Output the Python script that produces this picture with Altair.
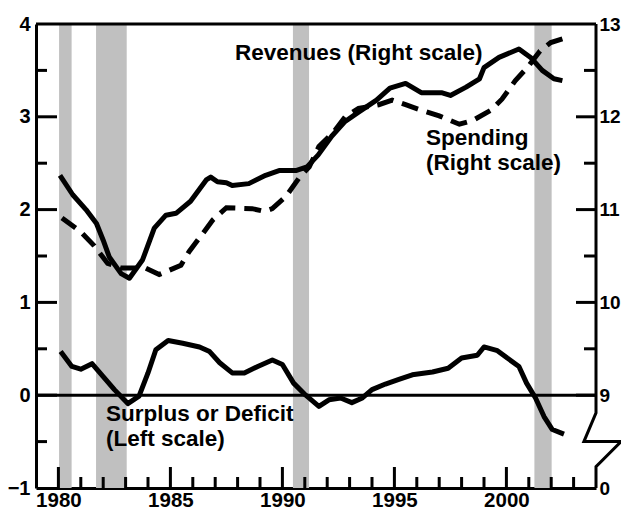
import altair as alt
import pandas as pd

# ---------------- data ----------------
rev_year = [1980.07, 1980.64, 1981.23, 1981.7, 1982.0, 1982.27, 1982.8, 1983.17, 1983.76,
            1984.28, 1984.8, 1985.25, 1985.9, 1986.6, 1986.8, 1987.1, 1987.5, 1987.76,
            1988.5, 1989.25, 1989.85, 1990.6, 1991.1, 1991.6, 1992.2, 1992.8, 1993.4,
            1994.2, 1994.8, 1995.5, 1996.2, 1997.1, 1997.5, 1998.2, 1998.8, 1999.0,
            1999.67, 2000.56, 2001.08, 2001.6, 2002.12, 2002.5]
rev_val = [11.37, 11.16, 11.00, 10.85, 10.67, 10.49, 10.31, 10.26, 10.46,
           10.80, 10.94, 10.96, 11.09, 11.32, 11.35, 11.30, 11.29, 11.26,
           11.28, 11.37, 11.42, 11.42, 11.46, 11.59, 11.79, 11.95, 12.05,
           12.18, 12.31, 12.36, 12.26, 12.26, 12.23, 12.32, 12.41, 12.53,
           12.64, 12.73, 12.64, 12.50, 12.41, 12.39]

spd_year = [1980.16, 1981.0, 1981.6, 1982.2, 1982.8, 1983.9, 1984.5, 1985.47, 1985.84,
            1986.44, 1986.9, 1987.5, 1988.65, 1989.2, 1989.55, 1990.15, 1990.74, 1991.2,
            1991.63, 1992.3, 1992.8, 1993.4, 1994.3, 1994.9, 1995.5, 1996.1, 1997.0,
            1997.9, 1998.5, 1999.3, 1999.8, 2000.4, 2000.93, 2001.5, 2001.98, 2002.5]
spd_val = [10.91, 10.76, 10.61, 10.42, 10.37, 10.37, 10.30, 10.40, 10.55,
           10.74, 10.89, 11.02, 11.01, 10.98, 11.01, 11.14, 11.34, 11.46,
           11.68, 11.84, 12.00, 12.09, 12.13, 12.18, 12.13, 12.08, 12.01,
           11.92, 11.96, 12.07, 12.19, 12.39, 12.53, 12.71, 12.80, 12.84]

sur_year = [1980.1, 1980.6, 1981.0, 1981.5, 1982.0, 1982.5, 1983.1, 1983.6, 1984.0,
            1984.35, 1984.9, 1985.55, 1986.3, 1986.75, 1987.2, 1987.76, 1988.3, 1988.9,
            1989.55, 1990.0, 1990.5, 1991.04, 1991.63, 1992.08, 1992.6, 1993.1, 1993.57,
            1994.0, 1994.6, 1995.2, 1995.8, 1996.7, 1997.4, 1998.0, 1998.7, 1999.0,
            1999.6, 2000.04, 2000.56, 2000.9, 2001.3, 2001.68, 2002.05, 2002.57]
sur_val = [0.47, 0.31, 0.28, 0.34, 0.20, 0.06, -0.09, -0.01, 0.24,
           0.49, 0.59, 0.56, 0.52, 0.47, 0.35, 0.24, 0.24, 0.31,
           0.38, 0.33, 0.13, 0.00, -0.12, -0.05, -0.03, -0.08, -0.03,
           0.06, 0.12, 0.17, 0.22, 0.25, 0.29, 0.40, 0.43, 0.52,
           0.48, 0.40, 0.31, 0.13, -0.03, -0.23, -0.37, -0.42]

rec_start = [1980.03, 1981.68, 1990.47, 2001.25]
rec_end = [1980.59, 1983.05, 1991.19, 2002.02]

x_major = [1980, 1985, 1990, 1995, 2000]
x_minor = [y for y in range(1981, 2004) if y % 5 != 0]
yl_major = [0, 1, 2, 3]
yl_minor = [-0.5, 0.5, 1.5, 2.5, 3.5]
yr_major = [9, 10, 11, 12]
yr_minor = [9.5, 10.5, 11.5, 12.5]
yl_labels = [-1, 0, 1, 2, 3, 4]
yr_labels = [8, 9, 10, 11, 12, 13]

# right-hand axis with its scale break
brk_x = [2004, 2004, 2003.46, 2005.12, 2004, 2004]
brk_y = [13, 8.81, 8.50, 8.50, 8.23, 8.0]

ann_text = ["Revenues (Right scale)", "Spending", "(Right scale)",
            "Surplus or Deficit", "(Left scale)"]
ann_x = [1987.88, 1996.41, 1996.41, 1982.125, 1982.125]
ann_y = [3.69, 2.77, 2.50, -0.20, -0.47]

# ---------------- chart ----------------
W, H = 560, 464
FONT = "Liberation Sans"

xs = alt.Scale(domain=[1979, 2004], nice=False, zero=False)
yl = alt.Scale(domain=[-1, 4], nice=False, zero=False)
yr = alt.Scale(domain=[8, 13], nice=False, zero=False)

x_axis = alt.Axis(title=None, values=x_major, format="d", ticks=False, grid=False,
                  domain=True, domainWidth=3, domainColor="black",
                  labelFont=FONT, labelFontSize=20.5, labelFontWeight="bold",
                  labelColor="black", labelPadding=2)
yl_axis = alt.Axis(title=None, values=yl_labels, format="d", ticks=False, grid=False,
                   domain=True, domainWidth=3, domainColor="black",
                   labelFont=FONT, labelFontSize=20, labelFontWeight="bold",
                   labelColor="black", labelPadding=6)
yr_axis = alt.Axis(title=None, orient="right", values=yr_labels, format="d",
                   ticks=False, grid=False, domain=False,
                   labelExpr="datum.value == 8 ? '0' : datum.label",
                   labelFont=FONT, labelFontSize=19, labelFontWeight="bold",
                   labelColor="black", labelPadding=3)


def X(field):
    return alt.X(field, scale=xs, axis=x_axis)


def YL(field):
    return alt.Y(field, scale=yl, axis=yl_axis)


def YR(field):
    return alt.Y(field, scale=yr, axis=yr_axis)


recess = alt.Chart(pd.DataFrame({"start": rec_start, "end": rec_end})).mark_rect(
    color="#c0c0c0").encode(x=X("start:Q"), x2="end:Q")

zero = alt.Chart(pd.DataFrame({"v": [0]})).mark_rule(color="black", strokeWidth=3).encode(
    y=YL("v:Q"))
top = alt.Chart(pd.DataFrame({"v": [4]})).mark_rule(color="black", strokeWidth=3).encode(
    y=YL("v:Q"))

surplus = alt.Chart(pd.DataFrame({"year": sur_year, "v": sur_val})).mark_line(
    color="black", strokeWidth=5, strokeJoin="round").encode(x=X("year:Q"), y=YL("v:Q"))

ltick_major = alt.Chart(pd.DataFrame({"v": yl_major})).mark_rule(
    color="black", strokeWidth=3).encode(y=YL("v:Q"), x=alt.value(0), x2=alt.value(21))
ltick_minor = alt.Chart(pd.DataFrame({"v": yl_minor})).mark_rule(
    color="black", strokeWidth=3).encode(y=YL("v:Q"), x=alt.value(0), x2=alt.value(11))

xtick_major = alt.Chart(pd.DataFrame({"year": x_major})).mark_rule(
    color="black", strokeWidth=3).encode(x=X("year:Q"), y=alt.value(H), y2=alt.value(H - 21))
xtick_minor = alt.Chart(pd.DataFrame({"year": x_minor})).mark_rule(
    color="black", strokeWidth=3).encode(x=X("year:Q"), y=alt.value(H), y2=alt.value(H - 11))

ann = alt.Chart(pd.DataFrame({"t": ann_text, "x": ann_x, "y": ann_y})).mark_text(
    align="left", baseline="middle", font=FONT, fontSize=22.5, fontWeight="bold",
    color="black").encode(x=X("x:Q"), y=YL("y:Q"), text="t:N")

left = alt.layer(recess, zero, top, surplus, ltick_major, ltick_minor,
                 xtick_major, xtick_minor, ann)

revenue = alt.Chart(pd.DataFrame({"year": rev_year, "v": rev_val})).mark_line(
    color="black", strokeWidth=5, strokeJoin="round").encode(x=X("year:Q"), y=YR("v:Q"))
spending = alt.Chart(pd.DataFrame({"year": spd_year, "v": spd_val})).mark_line(
    color="black", strokeWidth=5, strokeDash=[17, 9]).encode(x=X("year:Q"), y=YR("v:Q"))

rtick_major = alt.Chart(pd.DataFrame({"v": yr_major})).mark_rule(
    color="black", strokeWidth=3).encode(y=YR("v:Q"), x=alt.value(W), x2=alt.value(W - 20))
rtick_minor = alt.Chart(pd.DataFrame({"v": yr_minor})).mark_rule(
    color="black", strokeWidth=3).encode(y=YR("v:Q"), x=alt.value(W), x2=alt.value(W - 12))

brk = alt.Chart(pd.DataFrame({"i": list(range(len(brk_x))), "x": brk_x, "y": brk_y})).mark_line(
    color="black", strokeWidth=3, strokeJoin="miter").encode(
    x=X("x:Q"), y=YR("y:Q"), order="i:Q")

right = alt.layer(revenue, spending, rtick_major, rtick_minor, brk)

chart = alt.layer(left, right).resolve_scale(y="independent").properties(
    width=W, height=H,
    padding={"left": 28, "top": 16, "right": 25, "bottom": 22},
    autosize=alt.AutoSizeParams(type="none"),
    background="white",
).configure_view(stroke=None)

chart.save("out.html", embed_options={"renderer": "svg", "actions": False})
